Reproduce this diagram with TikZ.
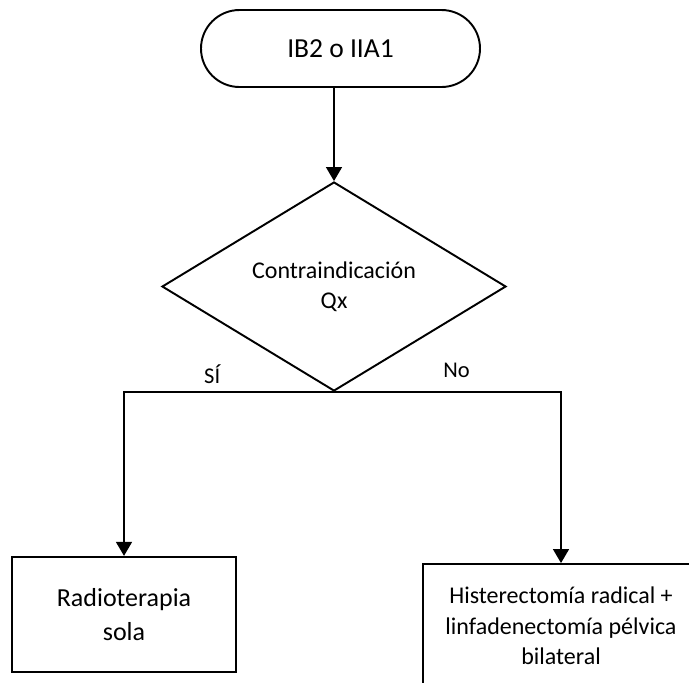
\documentclass[tikz,border=0pt]{standalone}
\usepackage{fontspec}
\setmainfont{Carlito}
\usetikzlibrary{shapes.geometric,arrows.meta}
\begin{document}
\begin{tikzpicture}[-{Triangle[width=0.32cm,length=0.28cm]},line width=0.85pt]
  \tikzstyle{terminal}=[draw,rectangle,rounded corners=0.77cm,line width=1.1pt,
    minimum width=5.58cm,minimum height=1.54cm,inner sep=0pt,
    font=\fontsize{15.65}{18}\selectfont]
  \tikzstyle{decision}=[draw,diamond,aspect=1.646,line width=1.1pt,inner sep=0pt,
    minimum width=6.88cm,minimum height=4.18cm,align=center,
    font=\fontsize{13.66}{17.07}\selectfont]
  \tikzstyle{process}=[draw,rectangle,line width=1.3pt,inner sep=0pt,align=center,
    font=\fontsize{13.66}{17.4}\selectfont]
  \tikzstyle{branch}=[font=\fontsize{12.8}{15}\selectfont,anchor=base,inner sep=0pt]

  \useasboundingbox (0,0) rectangle (13.78,-13.64);

  \node[terminal] (start) at (6.81,-0.97) {IB2 o IIA1};
  \node[decision] (contra) at (6.68,-5.73) {Contraindicación\\Qx};
  \draw (start.south -| contra.north) -- (contra.north);

  \node[process,minimum width=4.48cm,minimum height=2.3cm,
    font=\fontsize{14.8}{19.3}\selectfont] (radio) at (2.48,-12.29)
    {Radioterapia\\sola};
  \node[process,line width=1.1pt,minimum width=5.52cm,minimum height=2.48cm] (histe) at (11.22,-12.52)
    {Histerectomía radical +\\linfadenectomía pélvica\\bilateral};

  \draw (contra.south) -| (radio.north) node[branch,pos=0.29,yshift=0.16cm] (si) {SÍ};
  \draw (contra.south) -| (histe.north) node[branch,pos=0.27,yshift=0.28cm] (no) {No};

\end{tikzpicture}
\end{document}
